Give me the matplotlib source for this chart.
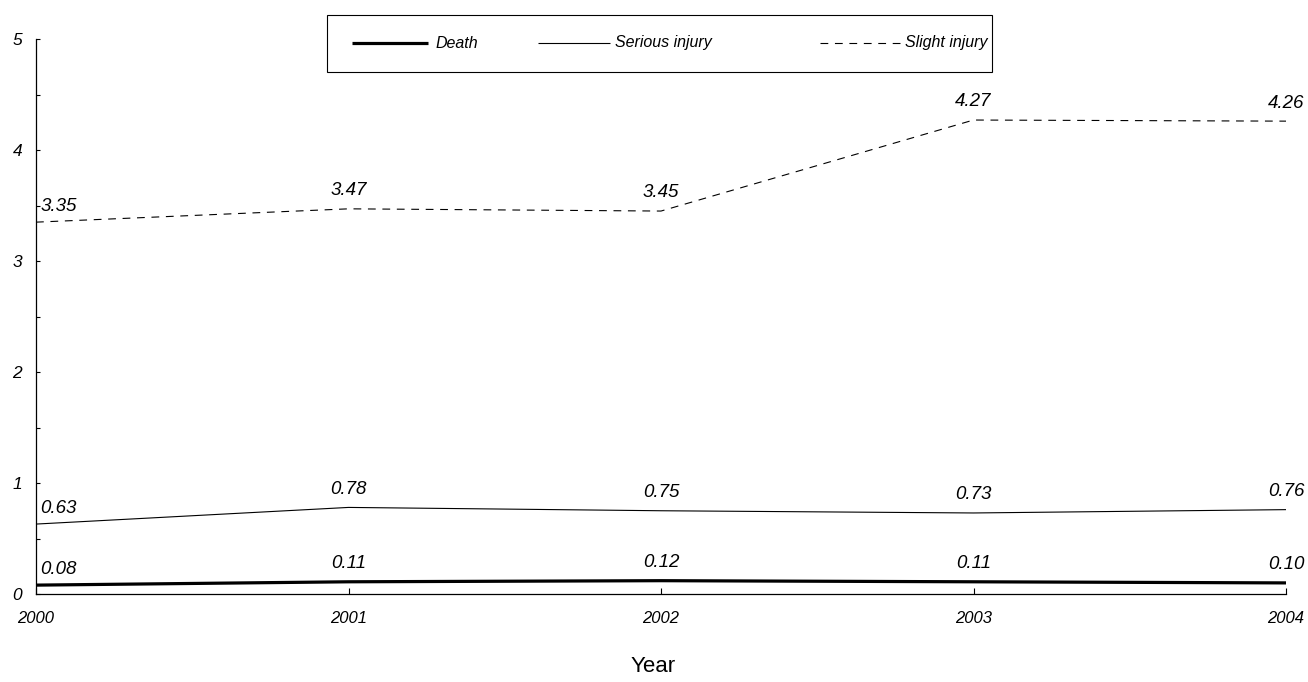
"""
Recria o gráfico de taxas (morte, ferimento grave, ferimento leve) por ano.
"""
import matplotlib
matplotlib.use("Agg")
import matplotlib.pyplot as plt
from matplotlib.lines import Line2D
from matplotlib.patches import Rectangle
from matplotlib.ticker import MultipleLocator

plt.rcParams['font.family'] = ['Liberation Sans', 'DejaVu Sans']

# Dados
anos = [2000, 2001, 2002, 2003, 2004]
morte = [0.08, 0.11, 0.12, 0.11, 0.10]
ferimento_grave = [0.63, 0.78, 0.75, 0.73, 0.76]
ferimento_leve = [3.35, 3.47, 3.45, 4.27, 4.26]
rotulos_series = ['Death', 'Serious injury', 'Slight injury']

W, H = 1308, 682
fig = plt.figure(figsize=(W / 100, H / 100), dpi=100)
ax = fig.add_axes([36 / W, 1 - 594 / H, (1286 - 36) / W, (594 - 39) / H])

estilos = [
    dict(color='black', lw=2.3, ls='-'),
    dict(color='black', lw=0.8, ls='-'),
    dict(color='black', lw=0.8, ls=(0, (7, 6))),
]

for valores, est in zip([morte, ferimento_grave, ferimento_leve], estilos):
    ax.plot(anos, valores, clip_on=False, solid_capstyle='butt', **est)
    for i, (x, y) in enumerate(zip(anos, valores)):
        if i == 0:
            ax.annotate(f"{y:.2f}", (x, y), xytext=(3, 11), textcoords='offset points',
                        ha='left', va='center', fontsize=13.5, style='italic')
        else:
            ax.annotate(f"{y:.2f}", (x, y), xytext=(0, 13), textcoords='offset points',
                        ha='center', va='center', fontsize=13.5, style='italic')

ax.set_xlim(2000, 2004)
ax.set_ylim(0, 5)
ax.set_xticks(anos)
ax.set_xticklabels([str(a) for a in anos], style='italic', fontsize=12)
ax.yaxis.set_major_locator(MultipleLocator(1))
ax.yaxis.set_minor_locator(MultipleLocator(0.5))
for lbl in ax.get_yticklabels():
    lbl.set_style('italic')
    lbl.set_fontsize(12.5)

ax.tick_params(axis='x', direction='in', length=4, width=0.8, pad=12)
ax.tick_params(axis='y', which='both', direction='in', length=3, width=0.8, pad=10)
ax.spines['top'].set_visible(False)
ax.spines['right'].set_visible(False)
ax.spines['left'].set_linewidth(0.9)
ax.spines['bottom'].set_linewidth(0.9)

fig.text(653 / W, 1 - 667 / H, 'Year', ha='center', va='center', fontsize=16)

# Legenda desenhada à mão (layout estilo Excel)
fig.add_artist(Rectangle((327 / W, 1 - 72 / H), (992 - 327) / W, 57 / H,
                         transform=fig.transFigure, fill=False, lw=0.8, ec='black'))
yl = 1 - 43 / H
posicoes = [(352, 428, 435), (538, 610, 615), (820, 900, 905)]
for (x0, x1, xt), est, rotulo in zip(posicoes, estilos, rotulos_series):
    fig.add_artist(Line2D([x0 / W, x1 / W], [yl, yl], transform=fig.transFigure,
                          solid_capstyle='butt', **est))
    fig.text(xt / W, yl, rotulo, ha='left', va='center', fontsize=11.5, style='italic')

fig.savefig('out.png', dpi=100)
